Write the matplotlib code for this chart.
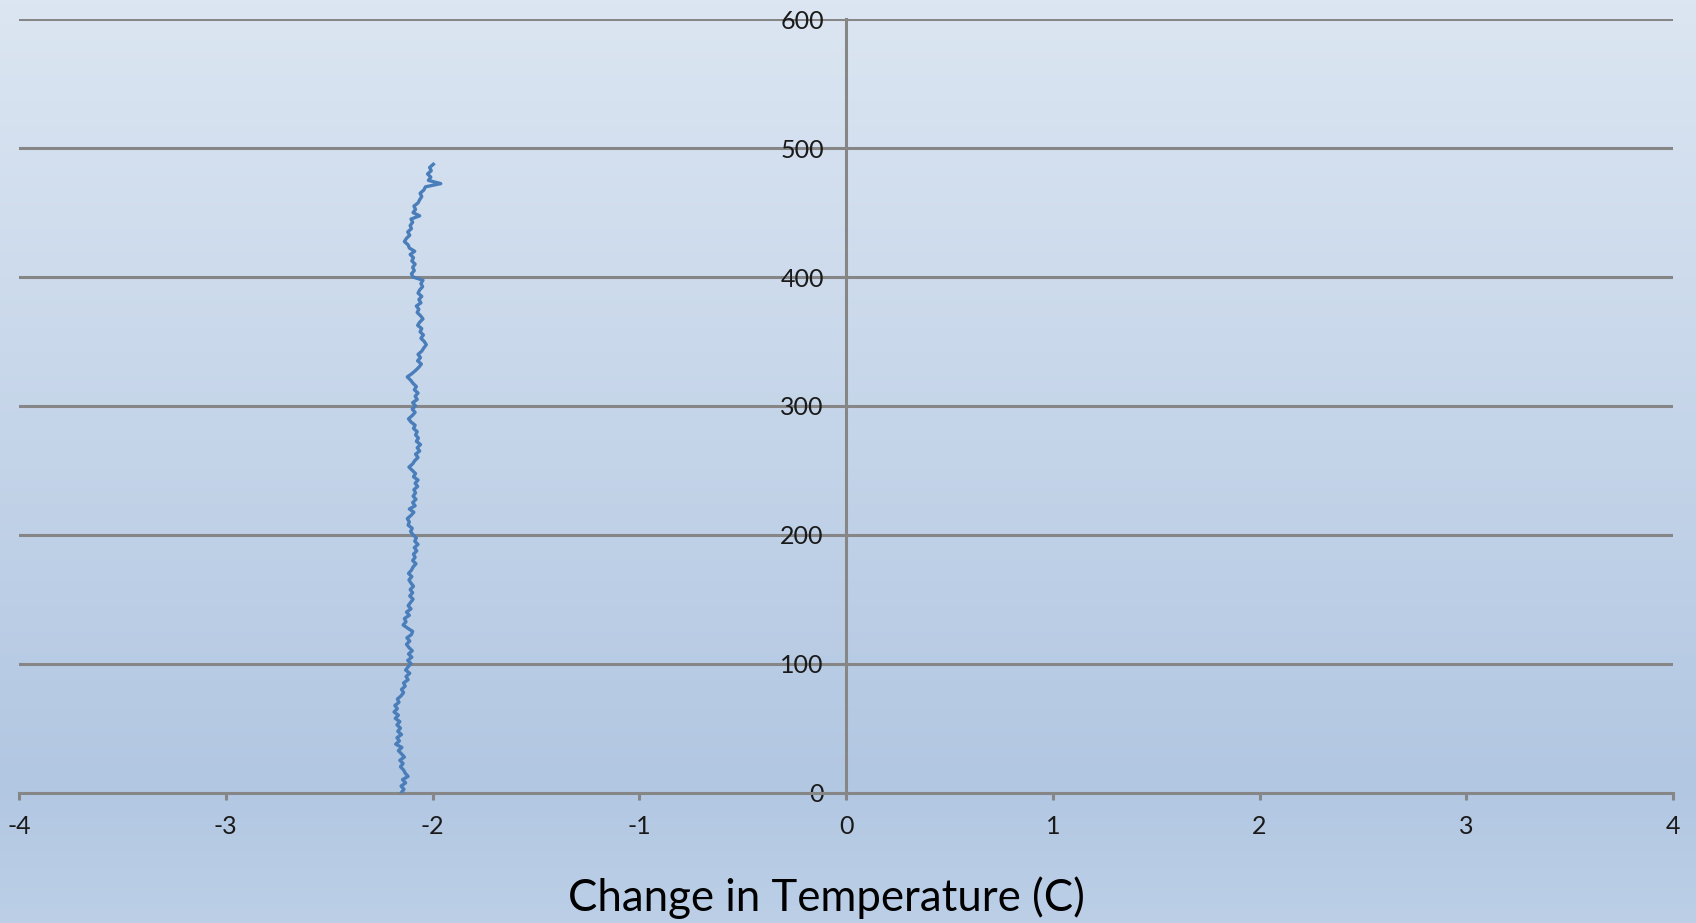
import numpy as np
import matplotlib
matplotlib.use("Agg")
import matplotlib.pyplot as plt
from matplotlib.colors import LinearSegmentedColormap

depth = np.arange(0, 490, 2.5)
temp_change = [
    -2.150, -2.138, -2.152, -2.130, -2.145, -2.118, -2.132, -2.140, -2.155, -2.142,
    -2.158, -2.136, -2.150, -2.165, -2.148, -2.178, -2.160, -2.172, -2.150, -2.168,
    -2.155, -2.172, -2.158, -2.180, -2.165, -2.186, -2.170, -2.182, -2.162, -2.170,
    -2.152, -2.140, -2.150, -2.132, -2.140, -2.118, -2.128, -2.110, -2.130, -2.118,
    -2.104, -2.120, -2.100, -2.116, -2.098, -2.114, -2.126, -2.110, -2.124, -2.102,
    -2.096, -2.120, -2.142, -2.128, -2.136, -2.112, -2.126, -2.104, -2.118, -2.106,
    -2.094, -2.110, -2.096, -2.108, -2.092, -2.104, -2.114, -2.100, -2.116, -2.102,
    -2.094, -2.080, -2.096, -2.084, -2.092, -2.076, -2.088, -2.070, -2.086, -2.078,
    -2.094, -2.106, -2.098, -2.118, -2.112, -2.122, -2.104, -2.090, -2.112, -2.084,
    -2.096, -2.080, -2.094, -2.082, -2.090, -2.072, -2.084, -2.070, -2.092, -2.082,
    -2.098, -2.114, -2.096, -2.086, -2.070, -2.082, -2.062, -2.074, -2.058, -2.078,
    -2.068, -2.082, -2.074, -2.092, -2.084, -2.104, -2.116, -2.098, -2.084, -2.098,
    -2.082, -2.096, -2.074, -2.084, -2.070, -2.088, -2.078, -2.094, -2.106, -2.122,
    -2.100, -2.082, -2.066, -2.054, -2.072, -2.058, -2.070, -2.052, -2.042, -2.030,
    -2.040, -2.056, -2.044, -2.060, -2.052, -2.072, -2.062, -2.046, -2.058, -2.074,
    -2.066, -2.078, -2.056, -2.066, -2.052, -2.070, -2.062, -2.048, -2.056, -2.046,
    -2.094, -2.102, -2.088, -2.096, -2.084, -2.100, -2.092, -2.108, -2.086, -2.112,
    -2.118, -2.136, -2.126, -2.110, -2.120, -2.102, -2.108, -2.096, -2.104, -2.062,
    -2.094, -2.082, -2.090, -2.070, -2.062, -2.052, -2.060, -2.042, -2.034, -1.960,
    -2.020, -2.008, -2.024, -2.006, -2.014, -1.996,
]

x_ticks = [-4, -3, -2, -1, 0, 1, 2, 3, 4]
y_ticks = [0, 100, 200, 300, 400, 500, 600]

GRID = "#868686"
TEXT = "#1a1a1a"
FONT = ["Lato", "DejaVu Sans"]

fig = plt.figure(figsize=(16.96, 9.23), dpi=100)

# slide-like blue gradient background
bg = fig.add_axes([0, 0, 1, 1], zorder=-10)
cmap = LinearSegmentedColormap.from_list(
    "bg", [(0.0, "#dce6f2"), (0.85, "#b2c7e2"), (1.0, "#bccfe7")])
grad = np.linspace(0, 1, 256).reshape(-1, 1)
bg.imshow(grad, aspect="auto", cmap=cmap, extent=[0, 1, 1, 0])
bg.axis("off")

ax = fig.add_axes([19 / 1696, 1 - 792.5 / 923, (1673 - 19) / 1696, (792.5 - 19.3) / 923])
ax.patch.set_alpha(0)

ax.plot(temp_change, depth, color="#4a7ebb", lw=2.4, zorder=3)

ax.set_xlim(-4, 4)
ax.set_ylim(0, 600)
ax.set_xticks(x_ticks)
ax.set_yticks(y_ticks)
ax.set_xticklabels([str(t) for t in x_ticks])
ax.set_yticklabels([str(t) for t in y_ticks])

for s in ["top", "right"]:
    ax.spines[s].set_visible(False)
ax.spines["left"].set_position(("data", 0))
ax.spines["bottom"].set_position(("data", 0))
for s in ["left", "bottom"]:
    ax.spines[s].set_color(GRID)
    ax.spines[s].set_linewidth(2.2)

ax.yaxis.grid(True, color=GRID, lw=2.2, zorder=1)
ax.set_axisbelow(True)

ax.tick_params(axis="x", length=5, width=2.2, color=GRID, direction="out",
               pad=11, labelsize=18, labelcolor=TEXT)
ax.tick_params(axis="y", length=0, pad=16, labelsize=18, labelcolor=TEXT)
for lbl in ax.get_xticklabels() + ax.get_yticklabels():
    lbl.set_family(FONT)

fig.text(826 / 1696, 1 - 898 / 923, "Change in Temperature (C)",
         ha="center", va="center", fontsize=31.5, color="black", family=FONT)

fig.savefig("out.png", dpi=100)
